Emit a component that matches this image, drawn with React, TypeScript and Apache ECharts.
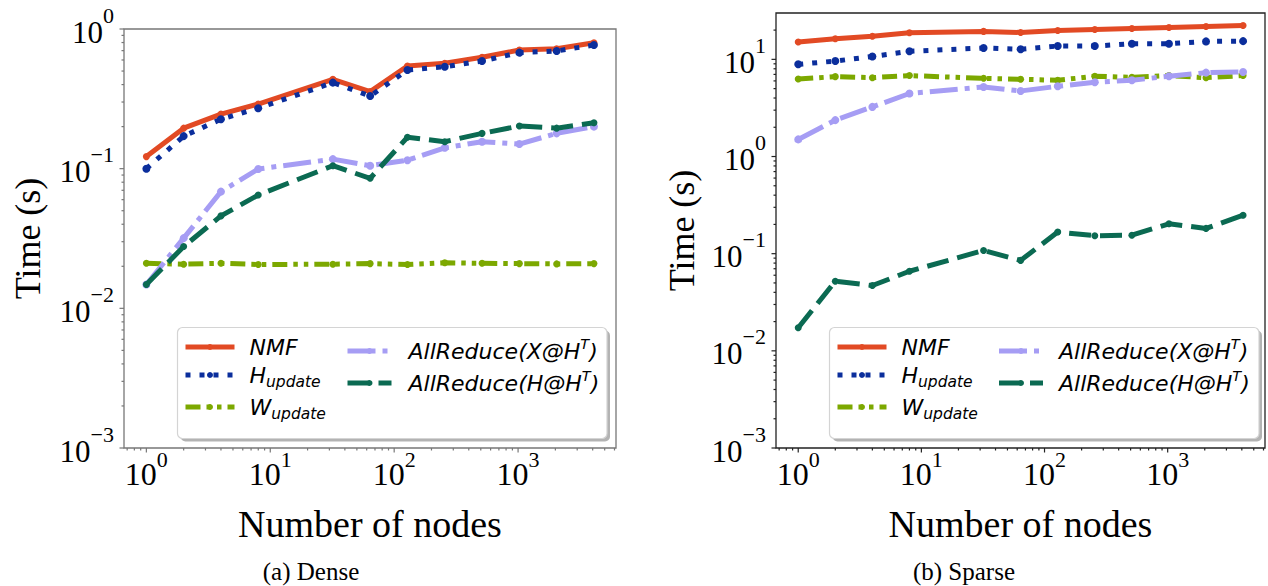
import React, { useEffect, useRef } from 'react';
import * as echarts from 'echarts';

// ---------------- data ----------------
const nodes = [1, 2, 4, 8, 32, 64, 128, 256, 512, 1024, 2048, 4096];
const seriesNames = ['NMF', 'H_update', 'W_update', 'AllReduce(X@H^T)', 'AllReduce(H@H^T)'];

const denseNMF = [0.122, 0.195, 0.246, 0.29, 0.436, 0.356, 0.543, 0.568, 0.627, 0.707, 0.723, 0.798];
const denseH = [0.1, 0.171, 0.226, 0.271, 0.413, 0.331, 0.509, 0.537, 0.59, 0.677, 0.696, 0.768];
const denseW = [0.021, 0.0207, 0.021, 0.0206, 0.0207, 0.0209, 0.0206, 0.0212, 0.021, 0.0209, 0.0208, 0.0209];
const denseXHt = [0.0148, 0.0318, 0.0685, 0.0995, 0.117, 0.105, 0.115, 0.141, 0.156, 0.15, 0.179, 0.2];
const denseHHt = [0.0148, 0.0277, 0.0459, 0.0648, 0.105, 0.0853, 0.168, 0.156, 0.179, 0.202, 0.195, 0.213];

const sparseNMF = [15.1, 16.3, 17.3, 18.8, 19.4, 18.9, 19.8, 20.3, 20.8, 21.3, 21.8, 22.3];
const sparseH = [8.89, 9.6, 10.7, 12.1, 13.1, 12.7, 13.7, 13.7, 14.5, 14.5, 15.3, 15.4];
const sparseW = [6.28, 6.64, 6.48, 6.81, 6.38, 6.24, 6.09, 6.7, 6.53, 6.81, 6.48, 6.81];
const sparseXHt = [1.5, 2.37, 3.24, 4.45, 5.2, 4.73, 5.28, 5.81, 6.09, 6.7, 7.3, 7.41];
const sparseHHt = [0.0173, 0.052, 0.047, 0.0659, 0.108, 0.0853, 0.167, 0.153, 0.155, 0.203, 0.182, 0.249];

const xLimits = [0.66, 6170];
const yLimitsDense = [0.001, 1];
const yLimitsSparse = [0.001, 30];

const xMajorTicks = [1, 10, 100, 1000];
const xMinorTicks = [0.7, 0.8, 0.9, 2, 3, 4, 5, 6, 7, 8, 9, 20, 30, 40, 50, 60, 70, 80, 90, 200, 300, 400, 500, 600, 700, 800, 900, 2000, 3000, 4000, 5000, 6000];
const yMajorDense = [0.001, 0.01, 0.1, 1];
const yMinorDense = [0.002, 0.003, 0.004, 0.005, 0.006, 0.007, 0.008, 0.009, 0.02, 0.03, 0.04, 0.05, 0.06, 0.07, 0.08, 0.09, 0.2, 0.3, 0.4, 0.5, 0.6, 0.7, 0.8, 0.9];
const yMajorSparse = [0.001, 0.01, 0.1, 1, 10];
const yMinorSparse = [...yMinorDense, 2, 3, 4, 5, 6, 7, 8, 9, 20];

const captions = ['(a) Dense', '(b) Sparse'];

// ---------------- styles ----------------
const colors = ['#E24A24', '#0B2E9C', '#7CA800', '#A69DF4', '#0B6A52'];
const dashes: any[] = ['solid', [5, 9], [15, 6, 4.5, 6, 4.5, 6], [28, 7, 5, 7], [22, 9]];
const symbolSizes = [7, 8, 7, 8, 7];
const SERIF = '"Liberation Serif", "Times New Roman", serif';
const SANS = '"DejaVu Sans", sans-serif';

const powLabel = (v: number) => {
  const l = Math.log10(v);
  const e = Math.round(l);
  if (Math.abs(l - e) > 1e-6) return '';
  return `{b|10}{e|${e < 0 ? '\u2212' + -e : e}}`;
};

const legendLabel = (name: string) => {
  if (name === 'H_update') return '{it|H}{sub|update}';
  if (name === 'W_update') return '{it|W}{sub|update}';
  if (name === 'AllReduce(X@H^T)') return '{it|AllReduce(X@H}{sup|T}{it|)}';
  if (name === 'AllReduce(H@H^T)') return '{it|AllReduce(H@H}{sup|T}{it|)}';
  return `{it|${name}}`;
};

const legendRich = {
  it: { fontFamily: SANS, fontStyle: 'italic', fontSize: 22, lineHeight: 30, color: '#000' },
  sub: { fontFamily: SANS, fontStyle: 'italic', fontSize: 15.5, lineHeight: 16, padding: [14, 0, 0, 0], color: '#000' },
  sup: { fontFamily: SANS, fontStyle: 'italic', fontSize: 14.5, lineHeight: 16, padding: [0, 0, 15, 0], color: '#000' },
};

function lineSeries(gi: number, values: number[][]) {
  return values.map((vals, i) => ({
    type: 'line',
    name: seriesNames[i],
    xAxisIndex: gi,
    yAxisIndex: gi,
    data: nodes.map((n, k) => [n, vals[k]]),
    symbol: 'circle',
    symbolSize: symbolSizes[i],
    showSymbol: true,
    silent: true,
    z: 2 + i * 0.01,
    lineStyle: { color: colors[i], width: 5, type: dashes[i], join: 'round', cap: 'butt' },
    itemStyle: { color: colors[i] },
    emphasis: { disabled: true },
  }));
}

function tickSeries(gi: number, yMajor: number[], yMinor: number[], yMin: number, color: string) {
  const data: number[][] = [];
  xMajorTicks.forEach((v) => data.push([v, yMin, 4.5, 0]));
  xMinorTicks.forEach((v) => data.push([v, yMin, 2.5, 0]));
  yMajor.forEach((v) => data.push([xLimits[0], v, 4.5, 1]));
  yMinor.forEach((v) => data.push([xLimits[0], v, 2.5, 1]));
  return {
    type: 'custom',
    xAxisIndex: gi,
    yAxisIndex: gi,
    silent: true,
    clip: false,
    z: 6,
    data,
    renderItem: (params: any, api: any) => {
      const p = api.coord([api.value(0), api.value(1)]);
      const len = api.value(2);
      const dir = api.value(3);
      const shape =
        dir === 0
          ? { x1: p[0], y1: p[1], x2: p[0], y2: p[1] + len }
          : { x1: p[0], y1: p[1], x2: p[0] - len, y2: p[1] };
      return { type: 'line', shape, style: { stroke: color, lineWidth: 1.2 } };
    },
  };
}

function xAxis(gi: number) {
  return {
    type: 'log',
    logBase: 10,
    gridIndex: gi,
    min: xLimits[0],
    max: xLimits[1],
    axisLine: { show: false },
    axisTick: { show: false },
    splitLine: { show: false },
    minorTick: { show: false },
    axisLabel: {
      interval: 0,
      margin: 10,
      formatter: powLabel,
      rich: {
        b: { fontFamily: SERIF, fontSize: 32, lineHeight: 32, color: '#000' },
        e: { fontFamily: SERIF, fontSize: 22, lineHeight: 22, padding: [0, 0, 30, 0], color: '#000' },
      },
    },
    name: 'Number of nodes',
    nameLocation: 'middle',
    nameGap: 47,
    nameTextStyle: { fontFamily: SERIF, fontSize: 38, color: '#000' },
  };
}

function yAxis(gi: number, lim: number[], gap: number) {
  return {
    type: 'log',
    logBase: 10,
    gridIndex: gi,
    min: lim[0],
    max: lim[1],
    axisLine: { show: false },
    axisTick: { show: false },
    splitLine: { show: false },
    minorTick: { show: false },
    axisLabel: {
      interval: 0,
      margin: 10,
      formatter: powLabel,
      rich: {
        b: { fontFamily: SERIF, fontSize: 31, lineHeight: 31, padding: [6, 0, 0, 0], color: '#000' },
        e: { fontFamily: SERIF, fontSize: 22, lineHeight: 22, padding: [0, 0, 28, 0], color: '#000' },
      },
    },
    name: 'Time (s)',
    nameLocation: 'middle',
    nameGap: gap,
    nameTextStyle: { fontFamily: SERIF, fontSize: 36, color: '#000' },
  };
}

function legend(left: number, width: number, names: string[], pad: number) {
  return {
    orient: 'vertical',
    left,
    top: 336,
    padding: 0,
    itemWidth: width,
    itemHeight: 7.5,
    itemGap: 2,
    selectedMode: false,
    data: names,
    formatter: legendLabel,
    lineStyle: { width: 5 },
    textStyle: { padding: [0, 0, 0, pad], rich: legendRich, fontFamily: SANS, fontSize: 22, color: '#000' },
    z: 10,
  };
}

function legendBox(x: number) {
  return [
    { type: 'rect', z: 8, shape: { x: x + 3, y: 330.5, width: 429.5, height: 111, r: 5 }, style: { fill: '#b3b3b3' }, silent: true },
    { type: 'rect', z: 8, shape: { x, y: 327.5, width: 429.5, height: 111, r: 5 }, style: { fill: '#ffffff', stroke: '#d4d4d4', lineWidth: 1.2 }, silent: true },
  ];
}

export default function App() {
  const ref = useRef<HTMLDivElement>(null);
  useEffect(() => {
    if (!ref.current) return;
    const chart = echarts.init(ref.current, null, { renderer: 'svg' });
    const option: any = {
      animation: false,
      backgroundColor: '#ffffff',
      grid: [
        { left: 124, top: 29, width: 492, height: 419, show: true, borderColor: '#777777', borderWidth: 1.3, backgroundColor: 'transparent' },
        { left: 776, top: 13, width: 491, height: 435, show: true, borderColor: '#222222', borderWidth: 1.3, backgroundColor: 'transparent' },
      ],
      xAxis: [xAxis(0), xAxis(1)],
      yAxis: [yAxis(0, yLimitsDense, 78), yAxis(1, yLimitsSparse, 76)],
      legend: [
        legend(183, 49, seriesNames.slice(0, 3), 10),
        legend(345, 44, seriesNames.slice(3), 12),
        legend(835, 49, seriesNames.slice(0, 3), 10),
        legend(996.5, 44, seriesNames.slice(3), 11),
      ],
      graphic: [
        ...legendBox(177.5),
        ...legendBox(829.5),
        { type: 'text', x: 311, y: 571, style: { text: captions[0], font: `25px ${SERIF}`, fill: '#000', align: 'center', verticalAlign: 'middle' } },
        { type: 'text', x: 964, y: 571, style: { text: captions[1], font: `25px ${SERIF}`, fill: '#000', align: 'center', verticalAlign: 'middle' } },
      ],
      series: [
        ...lineSeries(0, [denseNMF, denseH, denseW, denseXHt, denseHHt]),
        ...lineSeries(1, [sparseNMF, sparseH, sparseW, sparseXHt, sparseHHt]),
        tickSeries(0, yMajorDense, yMinorDense, yLimitsDense[0], '#777777'),
        tickSeries(1, yMajorSparse, yMinorSparse, yLimitsSparse[0], '#222222'),
      ],
    };
    chart.setOption(option);
    return () => chart.dispose();
  }, []);
  return <div ref={ref} style={{ position: 'fixed', left: 0, top: 0, width: 1268, height: 586 }} />;
}
